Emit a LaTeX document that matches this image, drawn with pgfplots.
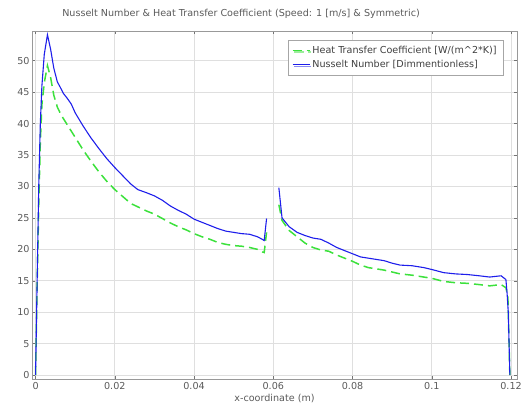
\documentclass[border=0pt]{standalone}
\usepackage{fontspec}
\setmainfont{DejaVu Sans}
\usepackage{pgfplots}
\pgfplotsset{compat=1.18}
\usetikzlibrary{shadows}
\definecolor{nublue}{RGB}{30,30,235}
\definecolor{htgreen}{RGB}{60,225,60}
\definecolor{txtgray}{RGB}{90,90,90}
\begin{document}
\begin{tikzpicture}
\useasboundingbox (-32pt,-33pt) rectangle (493pt,379pt);
\begin{axis}[
  at={(0,0)}, anchor=south west,
  scale only axis, width=485pt, height=348pt,
  xmin=-0.0009, xmax=0.1215, ymin=-0.6, ymax=54.7,
  unbounded coords=jump,
  font=\fontsize{9.6}{11}\selectfont,
  /pgf/number format/assume math mode=true,
  xtick={0,0.02,0.04,0.06,0.08,0.1,0.12},
  ytick={0,5,...,50},
  scaled x ticks=false,
  xticklabel style={/pgf/number format/fixed,/pgf/number format/precision=2, text=txtgray},
  yticklabel style={text=txtgray, xshift=1pt},
  grid=major, major grid style={gray!25, line width=0.7pt},
  axis line style={gray!80, line width=0.7pt},
  tick style={gray!90!black, line width=0.6pt},
  major tick length=3pt,
  xlabel={x-coordinate (m)}, xlabel style={text=txtgray, yshift=2pt},
  title={Nusselt Number \& Heat Transfer Coefficient (Speed: 1 [m/s] \& Symmetric)},
  title style={at={(0.431,1)}, anchor=south, inner sep=0pt, yshift=6.5pt, text=txtgray},
  legend style={at={(0.971,0.975)}, anchor=north east, draw=gray!70, fill=white,
    font=\fontsize{9.6}{11}\selectfont, text=black!75, row sep=1.5pt,
    inner xsep=4pt, inner ysep=4pt, drop shadow={shadow xshift=1.5pt, shadow yshift=-1.5pt, fill=gray!50}},
  legend cell align=left,
]
\addplot[htgreen, line width=1.5pt, dash pattern=on 9pt off 5pt] coordinates {
(0,0) (0.0004,14) (0.0008,27) (0.0012,37) (0.0016,43) (0.0022,46.5) (0.003,49.2)
(0.0038,47.3) (0.0046,44.5) (0.0055,42.6) (0.0065,41.3) (0.008,39.8) (0.010,37.8)
(0.012,35.8) (0.014,34.0) (0.016,32.3) (0.018,30.8) (0.020,29.5) (0.022,28.4)
(0.024,27.3) (0.026,26.7) (0.028,26.1) (0.030,25.6) (0.032,24.9) (0.034,24.2)
(0.036,23.6) (0.038,23.1) (0.040,22.5) (0.042,22.0) (0.044,21.6) (0.046,21.1)
(0.048,20.8) (0.050,20.6) (0.052,20.5) (0.054,20.3) (0.056,20.0) (0.0572,19.6)
(0.0577,19.5) (0.0583,22.7)
(0.06,nan)
(0.0614,27.1) (0.0622,24.6) (0.064,23.0) (0.066,22.0) (0.068,21.0) (0.070,20.3)
(0.072,19.9) (0.074,19.7) (0.076,19.1) (0.078,18.6) (0.080,18.1) (0.082,17.5)
(0.084,17.1) (0.086,16.9) (0.088,16.7) (0.090,16.4) (0.092,16.1) (0.095,15.9)
(0.098,15.6) (0.100,15.4) (0.103,14.9) (0.106,14.7) (0.109,14.6) (0.112,14.4)
(0.1146,14.2) (0.116,14.3) (0.1175,14.4) (0.1187,13.9) (0.1192,12.5) (0.1197,0)
};
\addlegendentry{Heat Transfer Coefficient [W/(m\textasciicircum 2*K)]}
\addplot[nublue, line width=1.1pt] coordinates {
(0,0) (0.0004,15) (0.0008,30) (0.0012,40) (0.0016,46) (0.0022,51) (0.003,54.1)
(0.0038,51.8) (0.0046,48.8) (0.0055,46.6) (0.0062,45.8) (0.007,44.8) (0.008,44.0)
(0.009,43.1) (0.010,41.7) (0.012,39.6) (0.014,37.7) (0.016,36.0) (0.018,34.4)
(0.020,33.0) (0.022,31.7) (0.024,30.4) (0.0258,29.5) (0.028,29.0) (0.030,28.5)
(0.032,27.8) (0.034,26.9) (0.036,26.2) (0.038,25.6) (0.040,24.8) (0.042,24.3)
(0.044,23.8) (0.046,23.3) (0.048,22.9) (0.050,22.7) (0.052,22.5) (0.054,22.4)
(0.056,22.0) (0.0572,21.6) (0.0577,21.4) (0.0583,24.9)
(0.06,nan)
(0.0614,29.8) (0.0622,25.0) (0.064,23.6) (0.066,22.7) (0.068,22.2) (0.070,21.8)
(0.072,21.6) (0.074,21.0) (0.076,20.3) (0.078,19.8) (0.080,19.3) (0.082,18.8)
(0.084,18.6) (0.086,18.4) (0.088,18.2) (0.090,17.8) (0.092,17.5) (0.095,17.4)
(0.098,17.1) (0.100,16.8) (0.103,16.3) (0.106,16.1) (0.109,16.0) (0.112,15.8)
(0.1146,15.6) (0.116,15.7) (0.1175,15.8) (0.1187,15.2) (0.1190,13) (0.1193,10)
(0.1197,0)
};
\addlegendentry{Nusselt Number [Dimmentionless]}
\end{axis}
\end{tikzpicture}
\end{document}
